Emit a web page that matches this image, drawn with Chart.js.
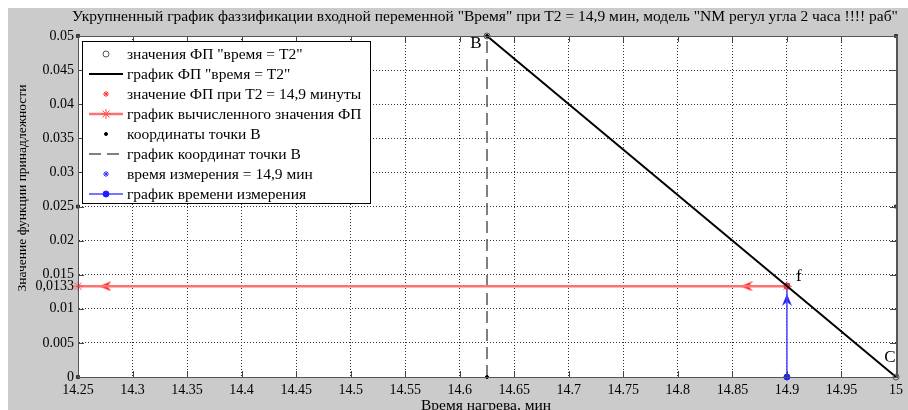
<!DOCTYPE html>
<html>
<head>
<meta charset="utf-8">
<script src="https://cdn.jsdelivr.net/npm/chart.js@4"></script>
<style>
  body { margin: 0; background: #fff; }
  canvas { display: block; }
</style>
</head>
<body>
<canvas id="chart" width="908" height="410"></canvas>
<script>
// --- data ---
const xTicks = [14.25, 14.3, 14.35, 14.4, 14.45, 14.5, 14.55, 14.6, 14.65, 14.7, 14.75, 14.8, 14.85, 14.9, 14.95, 15];
const yTicks = [0, 0.005, 0.01, 0.0133, 0.015, 0.02, 0.025, 0.03, 0.035, 0.04, 0.045, 0.05];
const fpX = [14.625, 15];          // точки B и C
const fpY = [0.05, 0];
const T2 = 14.9;
const fValue = 0.0133;
const calcX = [14.9, 14.25];       // горизонталь вычисленного значения
const calcY = [0.0133, 0.0133];
const pointBX = [14.625, 14.625];
const pointBY = [0, 0.05];
const measX = [14.9, 14.9];
const measY = [0, 0.0133];
const redArrowX = [14.275, 14.863];
const blueArrowY = [0.0113];
const axisMarkX = [14.25, 14.25, 14.25, 15, 15];
const axisMarkY = [0.05, 0.025, 0, 0.05, 0.025];
const pointLabels = [
  { x: 14.625, y: 0.05, text: 'B', dx: -11, dy: 8 },
  { x: 14.9, y: 0.0133, text: 'f', dx: 12, dy: -10 },
  { x: 15, y: 0, text: 'C', dx: -6, dy: -19 }
];
const titleText = 'Укрупненный график фаззификации входной переменной "Время" при T2 = 14,9 мин, модель "NM регул угла 2 часа !!!! раб"';
const yTitle = 'Значение функции принадлежности';
const xTitle = 'Время нагрева, мин';

const pts = (xs, ys) => xs.map((x, i) => ({ x: x, y: ys[i] }));

function arrowHead(color) {
  const c = document.createElement('canvas');
  c.width = 12; c.height = 10;
  const g = c.getContext('2d');
  g.fillStyle = color;
  g.beginPath();
  g.moveTo(0, 5); g.lineTo(12, 0); g.lineTo(8, 5); g.lineTo(12, 10);
  g.closePath(); g.fill();
  return c;
}

const serif = '"Liberation Serif", "DejaVu Serif", serif';

const frame = {
  id: 'frame',
  beforeDraw(chart) {
    const ctx = chart.ctx, a = chart.chartArea;
    ctx.save();
    ctx.fillStyle = '#fff';
    ctx.fillRect(0, 0, chart.width, chart.height);
    ctx.fillStyle = '#cbcbcb';
    ctx.fillRect(8, 8, chart.width - 8, chart.height - 8);
    ctx.fillStyle = '#fff';
    ctx.fillRect(a.left, a.top, a.right - a.left, a.bottom - a.top);
    ctx.restore();
  },
  afterDraw(chart) {
    const ctx = chart.ctx, a = chart.chartArea;
    const xs = chart.scales.x, ys = chart.scales.y;
    ctx.save();
    // inward tick marks, as in the original
    ctx.strokeStyle = '#444';
    ctx.lineWidth = 1;
    ctx.beginPath();
    xs.ticks.forEach(t => {
      const px = Math.round(xs.getPixelForValue(t.value)) + 0.5;
      ctx.moveTo(px, a.bottom); ctx.lineTo(px, a.bottom - 6);
      ctx.moveTo(px, a.top); ctx.lineTo(px, a.top + 6);
    });
    ys.ticks.forEach(t => {
      if (Math.abs(t.value - 0.0133) < 1e-9) return;
      const py = Math.round(ys.getPixelForValue(t.value)) + 0.5;
      ctx.moveTo(a.left, py); ctx.lineTo(a.left + 6, py);
      ctx.moveTo(a.right, py); ctx.lineTo(a.right - 6, py);
    });
    ctx.stroke();

    ctx.strokeStyle = '#555';
    ctx.strokeRect(a.left + 0.5, a.top + 0.5, a.right - a.left, a.bottom - a.top);
    ctx.lineWidth = 2;
    ctx.beginPath();
    ctx.moveTo(a.right + 1, a.top); ctx.lineTo(a.right + 1, a.bottom + 1);
    ctx.stroke();

    ctx.fillStyle = '#000';
    ctx.font = '15.5px ' + serif;
    ctx.textAlign = 'center';
    ctx.textBaseline = 'alphabetic';
    ctx.fillText(titleText, (a.left + a.right) / 2 - 2, 21);
    ctx.textBaseline = 'top';
    ctx.fillText(xTitle, (a.left + a.right) / 2 - 1, 398);
    ctx.save();
    ctx.font = '13.5px ' + serif;
    ctx.translate(22, 188);
    ctx.rotate(-Math.PI / 2);
    ctx.textBaseline = 'middle';
    ctx.fillText(yTitle, 0, 0);
    ctx.restore();

    ctx.font = '17px ' + serif;
    ctx.textAlign = 'center';
    ctx.textBaseline = 'middle';
    pointLabels.forEach(l => {
      ctx.fillText(l.text, xs.getPixelForValue(l.x) + l.dx, ys.getPixelForValue(l.y) + l.dy);
    });

    // legend box
    const bx = 82, by = 41, bw = 288, bh = 162;
    ctx.fillStyle = '#fff';
    ctx.fillRect(bx, by, bw, bh);
    ctx.strokeStyle = '#000';
    ctx.lineWidth = 1;
    ctx.strokeRect(bx + 0.5, by + 0.5, bw, bh);
    ctx.font = '15.5px ' + serif;
    ctx.textAlign = 'left';
    ctx.textBaseline = 'middle';
    let row = 0;
    chart.data.datasets.forEach(ds => {
      if (!ds.label) return;
      const cy = by + 13 + row * 20;
      if (ds.showLine) {
        ctx.save();
        ctx.strokeStyle = ds.borderColor;
        ctx.lineWidth = ds.borderWidth;
        ctx.setLineDash(ds.borderDash || []);
        ctx.beginPath();
        ctx.moveTo(89, cy); ctx.lineTo(123, cy);
        ctx.stroke();
        ctx.restore();
      }
      if (ds.pointRadius > 0) {
        ctx.save();
        ctx.strokeStyle = ds.pointBorderColor || ds.borderColor;
        ctx.fillStyle = ds.pointBackgroundColor || ds.backgroundColor;
        Chart.helpers.drawPoint(ctx, {
          pointStyle: ds.pointStyle, radius: ds.pointRadius,
          rotation: 0, borderWidth: ds.pointBorderWidth || 1
        }, 106, cy);
        ctx.restore();
      }
      ctx.fillStyle = '#000';
      ctx.fillText(ds.label, 127, cy + 1);
      row++;
    });
    ctx.restore();
  }
};

new Chart(document.getElementById('chart'), {
  type: 'scatter',
  data: {
    datasets: [
      { label: 'значения ФП "время = T2"', data: pts(fpX, fpY), showLine: false,
        pointStyle: 'circle', pointRadius: 3, pointBorderWidth: 1,
        borderColor: '#555', pointBorderColor: '#555', pointBackgroundColor: 'rgba(0,0,0,0)', backgroundColor: 'rgba(0,0,0,0)' },
      { label: 'график ФП "время = T2"', data: pts(fpX, fpY), showLine: true,
        borderColor: '#000', borderWidth: 2, pointRadius: 0 },
      { label: 'значение ФП при T2 = 14,9 минуты', data: [{ x: T2, y: fValue }], showLine: false,
        pointStyle: 'star', pointRadius: 3, pointBorderWidth: 1.5,
        borderColor: '#ff3030', pointBorderColor: '#ff3030', pointBackgroundColor: '#ff3030', backgroundColor: '#ff3030' },
      { label: 'график вычисленного значения ФП', data: pts(calcX, calcY), showLine: true,
        borderColor: '#ff7272', borderWidth: 2.5, pointStyle: 'star', pointRadius: 5, pointBorderWidth: 1,
        pointBorderColor: '#ff5050', pointBackgroundColor: '#ff5050', backgroundColor: '#ff5050' },
      { label: 'координаты точки B', data: pts(pointBX, pointBY), showLine: false,
        pointStyle: 'circle', pointRadius: 1.5, pointBorderWidth: 1,
        borderColor: '#000', pointBorderColor: '#000', pointBackgroundColor: '#000', backgroundColor: '#000' },
      { label: 'график координат точки B', data: pts(pointBX, pointBY), showLine: true,
        borderColor: '#555', borderWidth: 1.5, borderDash: [12, 6], pointRadius: 0 },
      { label: 'время измерения = 14,9 мин', data: [{ x: T2, y: fValue }], showLine: false,
        pointStyle: 'star', pointRadius: 3, pointBorderWidth: 1.5,
        borderColor: '#3030ff', pointBorderColor: '#3030ff', pointBackgroundColor: '#3030ff', backgroundColor: '#3030ff' },
      { label: 'график времени измерения', data: pts(measX, measY), showLine: true,
        borderColor: '#4848ff', borderWidth: 1.5, pointStyle: 'circle', pointRadius: 3, pointBorderWidth: 1,
        pointBorderColor: '#2020ff', pointBackgroundColor: '#2020ff', backgroundColor: '#2020ff' },
      { data: redArrowX.map(x => ({ x: x, y: fValue })), showLine: false,
        pointStyle: arrowHead('#ff2020'), pointRadius: 6, pointRotation: 0 },
      { data: blueArrowY.map(y => ({ x: T2, y: y })), showLine: false,
        pointStyle: arrowHead('#2020ff'), pointRadius: 6, pointRotation: 90 },
      { data: pts(axisMarkX, axisMarkY), showLine: false,
        pointStyle: 'rect', pointRadius: 2, pointBorderWidth: 1,
        borderColor: '#222', pointBackgroundColor: '#555', backgroundColor: '#555' }
    ]
  },
  options: {
    responsive: false,
    animation: false,
    devicePixelRatio: 1,
    layout: { padding: { top: 36, right: 10, left: 0, bottom: 0 } },
    datasets: { scatter: { clip: false } },
    plugins: { legend: { display: false }, title: { display: false }, tooltip: { enabled: false } },
    scales: {
      x: {
        type: 'linear', min: 14.25, max: 15,
        afterFit(s) { s.height = 33; },
        afterBuildTicks(s) { s.ticks = xTicks.map(v => ({ value: v })); },
        ticks: { color: '#000', padding: 5, font: { family: serif, size: 14 },
          autoSkip: false, maxRotation: 0,
          callback: v => String(+v.toFixed(2)) },
        grid: { color: '#333', lineWidth: 1, drawTicks: false },
        border: { color: '#555', dash: [1, 2] }
      },
      y: {
        type: 'linear', min: 0, max: 0.05,
        afterFit(s) { s.width = 78; },
        afterBuildTicks(s) { s.ticks = yTicks.map(v => ({ value: v })); },
        ticks: { color: '#000', padding: 4, font: { family: serif, size: 14 },
          autoSkip: false,
          callback: v => Math.abs(v - 0.0133) < 1e-9 ? '0,0133' : String(+v.toFixed(3)) },
        grid: { lineWidth: 1, drawTicks: false,
          color: c => (c.tick && Math.abs(c.tick.value - 0.0133) < 1e-9) ? 'rgba(0,0,0,0)' : '#333' },
        border: { color: '#555', dash: [1, 2] }
      }
    }
  },
  plugins: [frame]
});
</script>
</body>
</html>
